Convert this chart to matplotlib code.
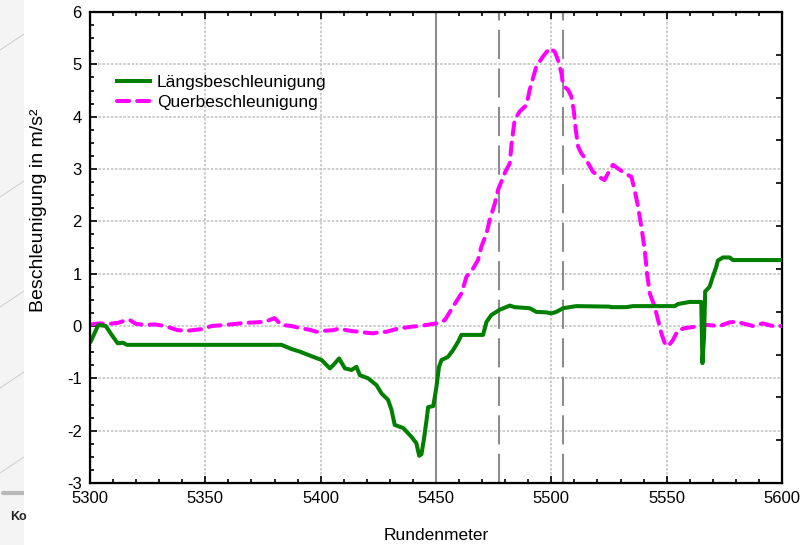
import numpy as np
import matplotlib.pyplot as plt
from matplotlib.ticker import MultipleLocator

# Rundenmeter / Beschleunigung
laengs_x = [5300.4, 5303.6, 5306.8, 5309.4, 5312, 5314.3, 5316, 5383, 5387.4, 5391,
            5396.8, 5400.4, 5404, 5405.4, 5408, 5410.5, 5413.4, 5415.5, 5417, 5420.6,
            5424.2, 5426.4, 5429.2, 5430.7, 5432.1, 5435.8, 5439.4, 5441.5, 5442.7, 5443.7,
            5444.7, 5445.9, 5446.6, 5448.8, 5449.5, 5450.2, 5451.3, 5452.4, 5455.2, 5457.4,
            5459.6, 5461, 5470.4, 5471.9, 5474, 5477.6, 5482, 5484.1, 5490.6, 5493.5,
            5497.9, 5500, 5502.2, 5505.1, 5510.8, 5525.3, 5526, 5532.5, 5535.4, 5553.5,
            5554.9, 5560, 5565, 5565.5, 5566.2, 5566.7, 5568.6, 5570, 5571.5, 5572.2,
            5574.4, 5577.3, 5578.7, 5600]
laengs_y = [-0.29, 0.02, 0.0, -0.17, -0.33, -0.32, -0.36, -0.36, -0.44, -0.49,
            -0.59, -0.65, -0.81, -0.75, -0.62, -0.81, -0.84, -0.78, -0.94, -1.0,
            -1.13, -1.29, -1.41, -1.6, -1.89, -1.95, -2.12, -2.24, -2.48, -2.45,
            -2.18, -1.8, -1.55, -1.53, -1.35, -1.16, -0.78, -0.65, -0.59, -0.46,
            -0.3, -0.17, -0.17, 0.08, 0.21, 0.31, 0.39, 0.36, 0.34, 0.27,
            0.26, 0.24, 0.27, 0.34, 0.38, 0.37, 0.36, 0.36, 0.38, 0.38,
            0.42, 0.46, 0.46, -0.71, -0.2, 0.66, 0.75, 0.94, 1.13, 1.25,
            1.31, 1.31, 1.26, 1.26]

quer_x = [5300.4, 5304, 5308, 5312, 5315, 5317, 5320, 5323.8, 5328, 5332.5,
          5338, 5342.4, 5348.4, 5352.7, 5358.5, 5363, 5367.2, 5372, 5375.8, 5380,
          5383, 5387.4, 5391, 5395, 5398.2, 5402, 5405.4, 5408, 5411.2, 5414,
          5417, 5420, 5422.7, 5425.5, 5428.5, 5431, 5434.3, 5437, 5440, 5443,
          5445.9, 5450.2, 5453.8, 5457.4, 5461, 5463.2, 5466.1, 5468.2, 5469.7, 5471.9,
          5473.3, 5475.5, 5476.9, 5479.8, 5482, 5482.7, 5484.1, 5486.3, 5489.2, 5490.6,
          5493.5, 5496.4, 5499.3, 5501.5, 5502.9, 5504.4, 5505.1, 5507.3, 5508.7, 5509.7,
          5510.6, 5511.6, 5513, 5515.2, 5518, 5521, 5523.1, 5525.3, 5526.7, 5528.9,
          5531.8, 5534.7, 5536.1, 5537.6, 5539, 5540.5, 5541.5, 5542.7, 5544.8, 5546.3,
          5547.7, 5549.2, 5550.6, 5552.7, 5554.9, 5558, 5561.4, 5564, 5567.2, 5570,
          5573, 5577.3, 5580, 5583, 5587.4, 5591.7, 5594, 5596, 5600]
quer_y = [0.03, 0.05, 0.04, 0.06, 0.1, 0.12, 0.04, 0.02, 0.03, 0.0,
          -0.08, -0.09, -0.06, 0.0, 0.02, 0.04, 0.06, 0.07, 0.08, 0.15,
          0.02, 0.0, -0.04, -0.07, -0.11, -0.09, -0.08, -0.05, -0.08, -0.1,
          -0.11, -0.13, -0.14, -0.12, -0.11, -0.08, -0.04, -0.03, -0.01, 0.0,
          0.02, 0.05, 0.11, 0.37, 0.62, 0.94, 1.1, 1.26, 1.52, 1.77,
          2.03, 2.34, 2.6, 2.92, 3.11, 3.46, 3.94, 4.1, 4.22, 4.51,
          4.96, 5.15, 5.31, 5.24, 5.08, 4.83, 4.6, 4.51, 4.38, 4.13,
          3.75, 3.43, 3.3, 3.17, 2.95, 2.84, 2.79, 2.98, 3.08, 3.01,
          2.92, 2.85, 2.6, 2.28, 1.9, 1.45, 1.0, 0.62, 0.37, 0.11,
          -0.14, -0.33, -0.39, -0.27, -0.08, -0.04, -0.02, 0.0, 0.02, 0.01,
          0.0, 0.07, 0.08, 0.05, 0.0, 0.05, 0.02, 0.0, 0.0]

marker_solid = 5450
marker_dashed = [5477.5, 5505]

plt.rcParams['font.family'] = ['Liberation Sans', 'DejaVu Sans']
plt.rcParams['axes.unicode_minus'] = False

fig = plt.figure(figsize=(8.03, 5.45), dpi=100)

# strip of the neighbouring page on the left edge
side = fig.add_axes([0, 0, 24 / 803, 1])
side.set_xlim(0, 24)
side.set_ylim(545, 0)
side.set_facecolor('#f4f4f4')
for s in side.spines.values():
    s.set_visible(False)
side.set_xticks([])
side.set_yticks([])
for y0 in [50, 197, 307, 388, 473]:
    side.plot([0, 24], [y0, y0 - 16], color='#c8c8c8', lw=0.6)
side.plot([3, 24], [493, 493], color='#b8b8b8', lw=3, solid_capstyle='round')
side.text(10, 517, 'Ko', fontsize=9, fontweight='bold', va='center', color='#222222')

ax = fig.add_axes([90 / 803, 62 / 545, 692 / 803, 471 / 545])

ax.plot(laengs_x, laengs_y, color='#007f00', lw=2.9, label='Längsbeschleunigung',
        solid_joinstyle='round', zorder=4)
ax.plot(quer_x, quer_y, color='#ff00ff', lw=2.9, label='Querbeschleunigung',
        dashes=(3.0, 2.0), dash_capstyle='round', zorder=3)

ax.axvline(marker_solid, color='#8c8c8c', lw=1.5, zorder=2)
for xv in marker_dashed:
    ax.axvline(xv, color='#8c8c8c', lw=1.5, dashes=(14, 4.5), zorder=2)

ax.set_xlim(5300, 5600)
ax.set_ylim(-3, 6)
ax.xaxis.set_major_locator(MultipleLocator(50))
ax.xaxis.set_minor_locator(MultipleLocator(10))
ax.yaxis.set_major_locator(MultipleLocator(1))
ax.yaxis.set_minor_locator(MultipleLocator(0.25))
ax.grid(True, which='major', color='#c4c4c4', lw=1.2, ls=(0, (1.5, 1)))
ax.set_axisbelow(True)

ax.tick_params(which='both', direction='in', top=True, right=False,
               labelsize=12, width=1.2, pad=6)
ax.tick_params(which='major', length=5)
ax.tick_params(which='minor', length=3)
for s in ax.spines.values():
    s.set_linewidth(1.6)

ax2 = ax.twinx()
ax2.set_ylim(0, 11)
ax2.yaxis.set_major_locator(MultipleLocator(1))
ax2.tick_params(direction='in', length=4, width=1.2, labelright=False)

ax.set_xlabel('Rundenmeter', fontsize=12.5)
ax.xaxis.set_label_coords(0.5, -0.096)
ax.set_ylabel('Beschleunigung in m/s²', fontsize=14)
ax.yaxis.set_label_coords(-0.062, 0.58)

ax.legend(loc='upper left', bbox_to_anchor=(0.039, 0.867), frameon=False,
          fontsize=12.5, handlelength=1.9, handletextpad=0.4, labelspacing=0.3,
          borderpad=0, borderaxespad=0)

fig.savefig('out.png', dpi=100)
